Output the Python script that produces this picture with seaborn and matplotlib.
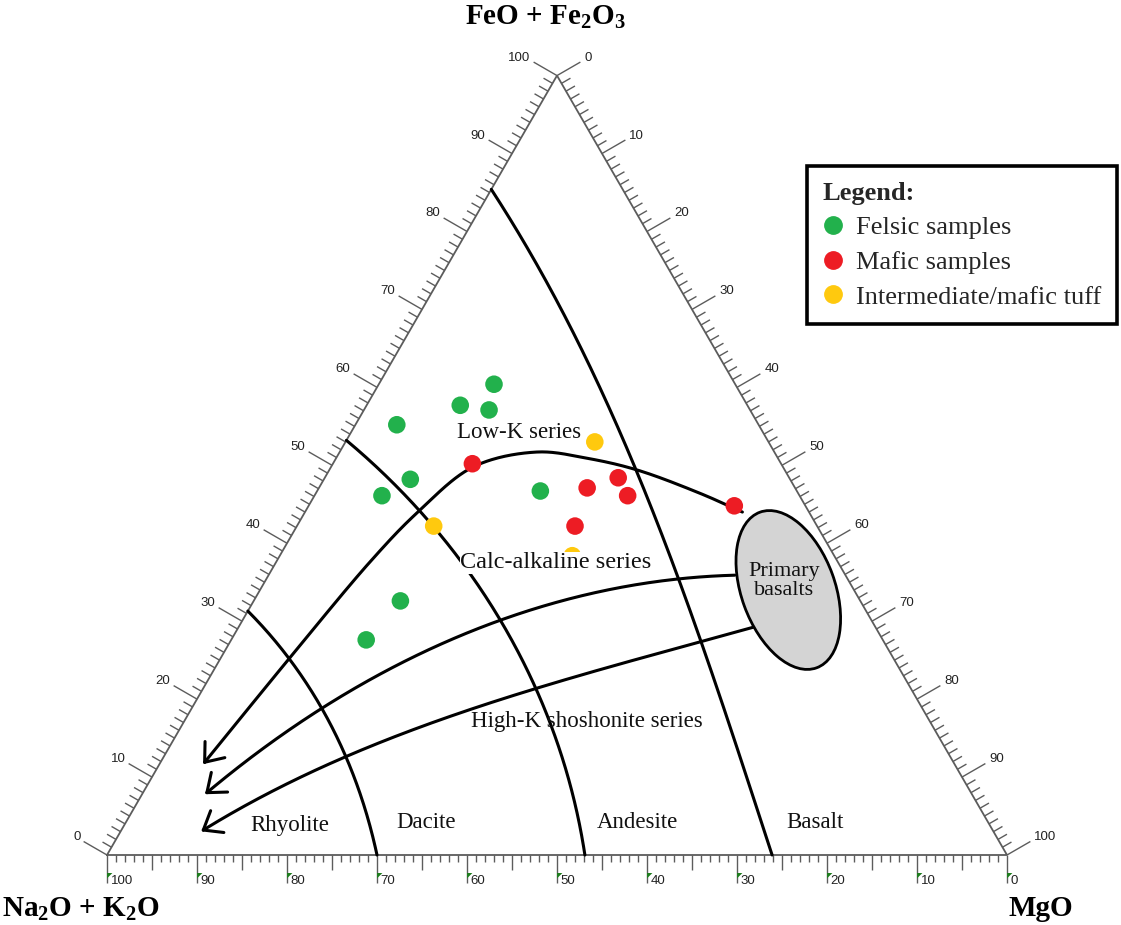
import numpy as np
import matplotlib
matplotlib.use("Agg")
import matplotlib.pyplot as plt
from matplotlib.patches import Ellipse, Polygon
from matplotlib.lines import Line2D
from matplotlib.collections import LineCollection
import pandas as pd
import seaborn as sns

# ---- sample compositions (normalised %): A = Na2O+K2O, F = FeO+Fe2O3, M = MgO
felsic_A = [26.8, 31.9, 29.0, 40.2, 42.2, 46.4, 28.5, 51.1, 57.4]
felsic_F = [60.4, 57.7, 57.1, 55.2, 48.2, 46.1, 46.7, 32.6, 27.6]
felsic_M = [12.8, 10.4, 13.9, 4.6, 9.6, 7.5, 24.8, 16.3, 15.0]

mafic_A = [34.3, 23.1, 19.0, 19.1, 26.9, 7.9]
mafic_F = [50.2, 47.1, 48.4, 46.1, 42.2, 44.8]
mafic_M = [15.5, 29.8, 32.6, 34.8, 30.9, 47.3]

tuff_A = [19.3, 42.6, 29.1]
tuff_F = [53.0, 42.2, 38.4]
tuff_M = [27.7, 15.2, 32.5]

group_names = ["Felsic samples", "Mafic samples", "Intermediate/mafic tuff"]
group_colors = ["#22b14c", "#ed1c24", "#ffc90e"]

# ---- field boundaries as (F, M) pairs, A = 100 - F - M
rhyolite_dacite = [(31.3, 0.0), (25.0, 7.6), (18.6, 14.9), (12.2, 20.7), (6.4, 25.1), (0.0, 30.0)]
dacite_andesite = [(53.2, 0.0), (43.9, 12.5), (37.9, 20.3), (34.0, 24.8), (30.5, 28.4),
                   (21.4, 37.1), (12.2, 44.2), (0.0, 53.1)]
andesite_basalt = [(85.4, 0.0), (71.6, 13.65), (63.5, 21.6), (49.4, 34.2), (37.9, 44.0),
                   (27.3, 52.2), (12.2, 64.2), (0.0, 73.9)]
lowk_calc = [(44.0, 48.6), (46.4, 42.7), (49.4, 34.2), (50.9, 27.9),
             (51.7, 21.9), (49.8, 15.8), (43.9, 12.5), (37.9, 10.5), (25.0, 7.6), (11.9, 4.9)]
calc_highk = [(35.9, 51.8), (35.0, 46.2), (33.4, 37.0), (30.5, 28.4), (24.1, 19.4),
              (18.6, 14.9), (8.0, 7.1)]
highk_lower = [(29.3, 57.4), (27.3, 52.2), (21.4, 37.1), (15.1, 23.9), (12.6, 20.5),
               (3.2, 9.1)]
primary_basalt_center = (34.0, 58.7)

S3 = np.sqrt(3) / 2


def tern(F, M):
    """Ternary (F, M) in % -> cartesian, A at lower left, F at top, M at lower right."""
    F = np.asarray(F, float)
    M = np.asarray(M, float)
    return M + F / 2, F * S3


def to_xy(pairs):
    F, M = zip(*pairs)
    x, y = tern(F, M)
    return np.column_stack([x, y])


def smooth_curve(pairs, deg=3, n=300):
    """Smooth parametric polynomial through the boundary points, pinned at both ends."""
    P = to_xy(pairs)
    d = np.r_[0, np.cumsum(np.hypot(*np.diff(P, axis=0).T))]
    t = d / d[-1]
    w = np.ones(len(t))
    w[0] = w[-1] = 40
    tt = np.linspace(0, 1, n)
    cx = np.polyval(np.polyfit(t, P[:, 0], deg, w=w), tt)
    cy = np.polyval(np.polyfit(t, P[:, 1], deg, w=w), tt)
    return np.column_stack([cx, cy])


def spline_curve(pairs, n=40, alpha=0.5):
    """Centripetal Catmull-Rom spline through every boundary point."""
    P = to_xy(pairs)
    P = np.vstack([2 * P[0] - P[1], P, 2 * P[-1] - P[-2]])
    out = []
    for i in range(1, len(P) - 2):
        p0, p1, p2, p3 = P[i - 1], P[i], P[i + 1], P[i + 2]
        t0 = 0.0
        t1 = t0 + np.linalg.norm(p1 - p0) ** alpha
        t2 = t1 + np.linalg.norm(p2 - p1) ** alpha
        t3 = t2 + np.linalg.norm(p3 - p2) ** alpha
        t = np.linspace(t1, t2, n, endpoint=False)[:, None]
        a1 = (t1 - t) / (t1 - t0) * p0 + (t - t0) / (t1 - t0) * p1
        a2 = (t2 - t) / (t2 - t1) * p1 + (t - t1) / (t2 - t1) * p2
        a3 = (t3 - t) / (t3 - t2) * p2 + (t - t2) / (t3 - t2) * p3
        b1 = (t2 - t) / (t2 - t0) * a1 + (t - t0) / (t2 - t0) * a2
        b2 = (t3 - t) / (t3 - t1) * a2 + (t - t1) / (t3 - t1) * a3
        out.append((t2 - t) / (t2 - t1) * b1 + (t - t1) / (t2 - t1) * b2)
    out.append(P[-2][None, :])
    return np.vstack(out)


# ---- figure: 9 px per unit, triangle base from px 107 to 1007 at row 855
W, H = 1121, 925
sns.set_style("white")
plt.rcParams["font.family"] = ["Liberation Serif", "DejaVu Sans"]
plt.rcParams["mathtext.fontset"] = "custom"
plt.rcParams["mathtext.rm"] = "Liberation Serif:bold"
plt.rcParams["mathtext.it"] = "Liberation Serif:bold"
plt.rcParams["mathtext.bf"] = "Liberation Serif:bold"

fig = plt.figure(figsize=(W / 100, H / 100), dpi=100)
ax = fig.add_axes([0, 0, 1, 1])
ax.set_xlim(-107 / 9, (W - 107) / 9)
ax.set_ylim(-(H - 855) / 9, 855 / 9)
ax.axis("off")


def px(x, y):
    return (x - 107) / 9, (855 - y) / 9


axis_grey = "#5c5c5c"

# triangle outline
tx, ty = tern([0, 0, 100, 0], [0, 100, 0, 0])
ax.plot(tx, ty, color=axis_grey, lw=1.3, zorder=2, solid_joinstyle="miter")

segs = []
lab_font = dict(family="Liberation Sans", size=9.5, color="#222222")
left_dir = np.array([-S3, 0.5])
right_dir = np.array([S3, 0.5])
for k in range(0, 101):
    major = k % 10 == 0
    # left side: FeO + Fe2O3
    bx, by = tern(k, 0)
    L = 3.0 if major else 1.15
    e = np.array([bx, by]) + left_dir * L
    segs.append([(bx, by), tuple(e)])
    if major:
        ax.text(e[0] - 0.35, e[1] + 0.5, str(k), ha="right", va="center", **lab_font)
    # right side: MgO
    bx, by = tern(100 - k, k)
    e = np.array([bx, by]) + right_dir * L
    segs.append([(bx, by), tuple(e)])
    if major:
        ax.text(e[0] + 0.45, e[1] + 0.5, str(k), ha="left", va="center", **lab_font)
    # bottom: Na2O + K2O (100 at left)
    bx = 100 - k
    Lb = 3.1 if major else (1.7 if k % 5 == 0 else 0.8)
    segs.append([(bx, 0), (bx, -Lb)])
    if major:
        ax.text(bx + 0.4, -2.85, str(k), ha="left", va="center", **lab_font)
        ax.add_patch(Polygon([(bx, -2.0), (bx + 0.6, -2.0), (bx, -2.6)], closed=True,
                             facecolor="#1e7d1e", edgecolor="none", zorder=3))
ax.add_collection(LineCollection(segs, colors=axis_grey, linewidths=1.0, zorder=2))

# field boundaries
line_kw = dict(color="black", lw=2.2, zorder=4, solid_capstyle="round")
for pairs in (rhyolite_dacite, dacite_andesite, andesite_basalt):
    c = smooth_curve(pairs, deg=3)
    ax.plot(c[:, 0], c[:, 1], **line_kw)

series_curves = [spline_curve(lowk_calc), smooth_curve(calc_highk, 3), smooth_curve(highk_lower, 3)]
for c in series_curves:
    ax.plot(c[:, 0], c[:, 1], **line_kw)
    tip = c[-1]
    back = c[-8] - tip
    back = back / np.hypot(*back)
    for ang in (np.radians(38), np.radians(-38)):
        rot = np.array([[np.cos(ang), -np.sin(ang)], [np.sin(ang), np.cos(ang)]])
        arm = tip + rot @ back * 2.3
        ax.plot([tip[0], arm[0]], [tip[1], arm[1]], **line_kw)

# primary basalt field
cx, cy = tern(*primary_basalt_center)
ax.add_patch(Ellipse((cx, cy), width=10.4, height=18.4, angle=20,
                     facecolor="#d4d4d4", edgecolor="black", lw=2.0, zorder=5))

# samples
df = pd.DataFrame({
    "A": felsic_A + mafic_A + tuff_A,
    "F": felsic_F + mafic_F + tuff_F,
    "M": felsic_M + mafic_M + tuff_M,
    "group": [group_names[0]] * len(felsic_F) + [group_names[1]] * len(mafic_F)
             + [group_names[2]] * len(tuff_F),
})
tot = df["A"] + df["F"] + df["M"]
df["x"], df["y"] = tern(100 * df["F"] / tot, 100 * df["M"] / tot)
sns.scatterplot(data=df, x="x", y="y", hue="group", hue_order=group_names,
                palette=dict(zip(group_names, group_colors)), s=160, linewidth=0,
                legend=False, ax=ax, zorder=6)

# labels
txt = dict(family="Liberation Serif", size=16.5, color="#111111", zorder=7)
ax.text(*px(519, 433), "Low-K series", ha="center", va="center", **txt)
ax.text(*px(556, 563), "Calc-alkaline series", ha="center", va="center",
        bbox=dict(facecolor="white", edgecolor="none", pad=0.5), **{**txt, "size": 17.5})
ax.text(*px(587, 721), "High-K shoshonite series", ha="center", va="center", **txt)
ax.text(*px(290, 825), "Rhyolite", ha="center", va="center", **txt)
ax.text(*px(426, 823), "Dacite", ha="center", va="center", **txt)
ax.text(*px(637, 823), "Andesite", ha="center", va="center", **txt)
ax.text(*px(815, 823), "Basalt", ha="center", va="center", **txt)
ax.text(*px(784, 581), "Primary\nbasalts", ha="center", va="center", linespacing=0.95,
        **{**txt, "size": 16})

title_kw = dict(family="Liberation Serif", weight="bold", size=21, color="black")
ax.text(*px(545, 17), r"FeO + Fe$_2$O$_3$", ha="center", va="center", **title_kw)
ax.text(*px(81, 909), r"Na$_2$O + K$_2$O", ha="center", va="center", **title_kw)
ax.text(*px(1041, 909), "MgO", ha="center", va="center", **title_kw)

# legend
handles = [Line2D([], [], ls="none", marker="o", ms=12.5, mfc=c, mec=c) for c in group_colors]
leg = ax.legend(handles, group_names, title="Legend:", loc="upper left",
                bbox_to_anchor=(807 / W, 1 - 166 / H), bbox_transform=fig.transFigure,
                frameon=True, fancybox=False, framealpha=1, edgecolor="black",
                borderaxespad=0, prop=dict(family="Liberation Serif", size=19),
                title_fontproperties=dict(family="Liberation Serif", size=19, weight="bold"),
                alignment="left", handlelength=0.75, handletextpad=0.5,
                labelspacing=0.42, borderpad=0.6)
leg.get_frame().set_linewidth(2.6)
leg.set_zorder(10)

fig.savefig("out.png", dpi=100, facecolor="white")
